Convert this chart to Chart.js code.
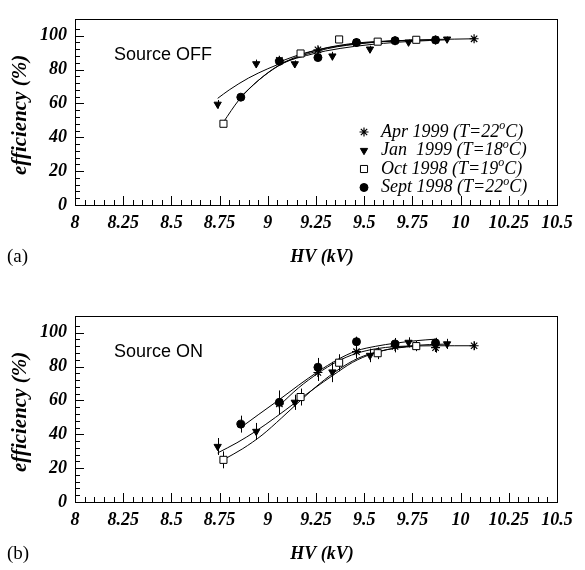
<!DOCTYPE html>
<html>
<head>
<meta charset="utf-8">
<script src="https://cdn.jsdelivr.net/npm/chart.js@4.4.0/dist/chart.umd.min.js"></script>
<style>
  html, body { margin: 0; padding: 0; background: #fff; overflow: hidden; }
  .panel { position: absolute; left: 0; width: 585px; height: 273px; }
</style>
</head>
<body>
<div class="panel" style="top:0"><canvas id="chart-a" width="585" height="273"></canvas></div>
<div class="panel" style="top:297px"><canvas id="chart-b" width="585" height="273"></canvas></div>
<script>
// ---- axis ranges / labels
const hvMin = 8, hvMax = 10.5, hvMajor = 0.25, hvMinor = 0.05;
const effMin = 0, effMax = 110, effMajor = 20, effMinor = 4;

// ---- legend
const legendNames = ['Apr 1999', 'Jan  1999', 'Oct 1998', 'Sept 1998'];
const legendTemps = [22, 18, 19, 22];

// ---- (a) Source OFF : measured points
const aprOffX = [9.06, 9.26, 9.46, 9.66, 9.87, 10.07];
const aprOffY = [85.5, 91.7, 96, 97, 97.5, 98.2];
const aprOffErr = [2, 2, 1.5, 1.5, 1, 1];
const janOffX = [8.74, 8.94, 9.14, 9.335, 9.53, 9.73, 9.93];
const janOffY = [59.5, 83.4, 83.4, 88, 92.1, 96.2, 98];
const janOffErr = [2.5, 2.5, 2, 2.5, 2, 1.5, 1.5];
const octOffX = [8.77, 9.17, 9.37, 9.57, 9.77];
const octOffY = [48, 89.5, 97.8, 96.5, 97.6];
const octOffErr = [1, 1, 1, 1, 1];
const septOffX = [8.86, 9.06, 9.26, 9.46, 9.66, 9.87];
const septOffY = [63.7, 84.9, 87.1, 96, 97.1, 97.5];
const septOffErr = [1, 1, 1, 1, 1, 1];

// ---- (a) fitted curves
const aprOffFitX = [9.06, 9.16, 9.26, 9.36, 9.46, 9.56, 9.66, 9.77, 9.87, 9.97, 10.07];
const aprOffFitY = [84.5, 88.7, 91.7, 93.8, 95.3, 96.3, 97, 97.5, 97.8, 98, 98.2];
const janOffFitX = [8.74, 8.8, 8.9, 9.0, 9.1, 9.2, 9.3, 9.45, 9.6, 9.75, 9.93];
const janOffFitY = [63, 68, 75, 80.5, 85, 88.3, 91, 93.7, 95.5, 96.7, 97.6];
const octOffFitX = [8.77, 8.85, 8.95, 9.05, 9.17, 9.27, 9.37, 9.47, 9.57, 9.67, 9.77];
const octOffFitY = [49, 62, 73.5, 82, 88.5, 92, 94.3, 95.8, 96.6, 97.1, 97.4];
const septOffFitX = [8.86, 8.95, 9.06, 9.16, 9.26, 9.36, 9.46, 9.56, 9.66, 9.77, 9.87];
const septOffFitY = [64, 73.5, 82.5, 87.5, 91, 93.5, 95, 96.2, 96.9, 97.3, 97.5];

// ---- (b) Source ON : measured points
const aprOnX = [9.06, 9.26, 9.46, 9.66, 9.87, 10.07];
const aprOnY = [58, 76.5, 88.8, 91.9, 91.2, 92.3];
const aprOnErr = [5, 5, 4, 3.5, 3, 2.5];
const janOnX = [8.74, 8.94, 9.14, 9.335, 9.53, 9.73, 9.93];
const janOnY = [32.8, 41.7, 58.9, 76.8, 86.6, 94.3, 93.4];
const janOnErr = [5, 5, 4.5, 6, 4, 3, 3];
const octOnX = [8.77, 9.17, 9.37, 9.57, 9.77];
const octOnY = [24.9, 62, 82.3, 87.9, 92.1];
const octOnErr = [5, 5, 5, 3.5, 3];
const septOnX = [8.86, 9.06, 9.26, 9.46, 9.66, 9.87];
const septOnY = [46, 58.9, 79.6, 94.7, 93.4, 94];
const septOnErr = [5, 7, 5.5, 3, 3.5, 3];

// ---- (b) fitted curves
const aprOnFitX = [9.06, 9.16, 9.26, 9.36, 9.46, 9.56, 9.66, 9.77, 9.87, 9.97, 10.07];
const aprOnFitY = [57, 67.5, 76, 83, 87.8, 90.5, 91.8, 92.2, 92.3, 92.3, 92.3];
const janOnFitX = [8.74, 8.84, 8.94, 9.04, 9.14, 9.24, 9.34, 9.44, 9.54, 9.64, 9.74, 9.84, 9.93];
const janOnFitY = [29, 35, 42, 50, 58.5, 67, 75, 82.5, 87.5, 90.5, 92.2, 93, 93.3];
const octOnFitX = [8.77, 8.87, 8.97, 9.07, 9.17, 9.27, 9.37, 9.47, 9.57, 9.67, 9.77];
const octOnFitY = [25, 31.5, 39.5, 49.5, 60, 70, 78.5, 85, 88.8, 91, 92];
const septOnFitX = [8.86, 8.95, 9.06, 9.16, 9.26, 9.36, 9.46, 9.56, 9.66, 9.77, 9.87];
const septOnFitY = [44, 51.5, 60.5, 69, 77, 84, 89.3, 92, 93.8, 95.3, 96.2];

const serif = '"Liberation Serif", "Times New Roman", serif';

// marker look for each period (Apr, Jan, Oct, Sept)
const markers = [
  { pointStyle: 'star', radius: 4.5, rotation: 0, borderWidth: 1.2, backgroundColor: '#000' },
  { pointStyle: 'triangle', radius: 4.2, rotation: 180, borderWidth: 1, backgroundColor: '#000' },
  { pointStyle: 'rect', radius: 5, rotation: 0, borderWidth: 1, backgroundColor: '#fff' },
  { pointStyle: 'circle', radius: 4, rotation: 0, borderWidth: 1, backgroundColor: '#000' }
];

const toXY = (xs, ys) => xs.map((x, i) => ({ x: x, y: ys[i] }));

function isMultiple(v, step) {
  const r = v / step;
  return Math.abs(r - Math.round(r)) < 1e-6;
}

// frame, inner tick marks, error bars and texts
const panelDecor = {
  id: 'panelDecor',
  beforeDatasetsDraw(chart, args, opts) {
    const { ctx, scales: { x, y } } = chart;
    ctx.save();
    ctx.strokeStyle = '#000';
    ctx.lineWidth = 1;
    opts.errors.forEach(s => {
      s.x.forEach((xv, i) => {
        const px = Math.round(x.getPixelForValue(xv)) + 0.5;
        ctx.beginPath();
        ctx.moveTo(px, y.getPixelForValue(s.y[i] - s.e[i]));
        ctx.lineTo(px, y.getPixelForValue(s.y[i] + s.e[i]));
        ctx.stroke();
      });
    });
    ctx.restore();
  },
  afterDraw(chart, args, opts) {
    const { ctx, chartArea: a, scales: { x, y } } = chart;
    ctx.save();
    ctx.strokeStyle = '#000';
    ctx.fillStyle = '#000';
    ctx.lineWidth = 1;
    ctx.strokeRect(Math.round(a.left) + 0.5, Math.round(a.top) + 0.5,
      Math.round(a.right - a.left), Math.round(a.bottom - a.top));

    // ticks on bottom and left axes, pointing inwards
    ctx.beginPath();
    x.ticks.forEach(t => {
      if (!isMultiple(t.value, hvMinor)) return;
      const px = Math.round(x.getPixelForValue(t.value)) + 0.5;
      const len = isMultiple(t.value, hvMajor) ? 9 : 5;
      ctx.moveTo(px, a.bottom);
      ctx.lineTo(px, a.bottom - len);
    });
    y.ticks.forEach(t => {
      if (!isMultiple(t.value, effMinor)) return;
      const py = Math.round(y.getPixelForValue(t.value)) + 0.5;
      const len = isMultiple(t.value, effMajor) ? 9 : 5;
      ctx.moveTo(a.left, py);
      ctx.lineTo(a.left + len, py);
    });
    ctx.stroke();

    // texts
    ctx.textBaseline = 'middle';
    ctx.textAlign = 'left';
    ctx.font = '18px "Liberation Sans", Arial, sans-serif';
    ctx.fillText(opts.source, 114, 55);

    ctx.font = '19px ' + serif;
    ctx.fillText(opts.tag, 7, 257);

    ctx.textAlign = 'center';
    ctx.font = 'italic bold 18px ' + serif;
    ctx.fillText('HV (kV)', 322, 257);

    ctx.save();
    ctx.translate(21, (a.top + a.bottom) / 2 + 3);
    ctx.rotate(-Math.PI / 2);
    ctx.font = 'italic bold 21px ' + serif;
    ctx.fillText('efficiency (%)', 0, 0);
    ctx.restore();

    if (opts.legend) {
      const drawPoint = Chart.helpers && Chart.helpers.drawPoint;
      legendNames.forEach((name, i) => {
        const ly = 132 + i * 18.5;
        const m = markers[i];
        ctx.fillStyle = m.backgroundColor;
        ctx.strokeStyle = '#000';
        ctx.lineWidth = m.borderWidth;
        if (drawPoint) drawPoint(ctx, m, 364, ly);
        ctx.fillStyle = '#000';
        ctx.textAlign = 'left';
        ctx.font = 'italic 18px ' + serif;
        const head = name + ' (T=' + legendTemps[i];
        ctx.fillText(head, 381, ly);
        let tx = 381 + ctx.measureText(head).width;
        ctx.font = 'italic 12px ' + serif;
        ctx.fillText('o', tx, ly - 6);
        tx += ctx.measureText('o').width;
        ctx.font = 'italic 18px ' + serif;
        ctx.fillText('C)', tx, ly);
      });
    }
    ctx.restore();
  }
};

function pointSet(xs, ys, k) {
  const m = markers[k];
  return {
    type: 'scatter',
    data: toXY(xs, ys),
    showLine: false,
    pointStyle: m.pointStyle,
    pointRadius: m.radius,
    pointRotation: m.rotation,
    pointBorderWidth: m.borderWidth,
    pointBackgroundColor: m.backgroundColor,
    pointBorderColor: '#000',
    order: 0
  };
}

function fitSet(xs, ys) {
  return {
    type: 'line',
    data: toXY(xs, ys),
    borderColor: '#000',
    borderWidth: 1,
    pointRadius: 0,
    fill: false,
    cubicInterpolationMode: 'monotone',
    order: 1
  };
}

function makeChart(id, fits, points, deco) {
  const tickFont = { family: serif, size: 18, style: 'italic', weight: 'bold' };
  return new Chart(document.getElementById(id), {
    type: 'scatter',
    data: { datasets: fits.map(f => fitSet(f[0], f[1])).concat(points.map((p, k) => pointSet(p[0], p[1], k))) },
    options: {
      responsive: false,
      animation: false,
      layout: { padding: { top: 6, right: 28, left: 0, bottom: 0 } },
      plugins: { legend: { display: false }, tooltip: { enabled: false }, panelDecor: deco },
      scales: {
        x: {
          type: 'linear', min: hvMin, max: hvMax,
          grid: { display: false, drawTicks: false },
          border: { display: false },
          afterFit: s => { s.height = 68; },
          ticks: {
            stepSize: hvMinor, autoSkip: false, maxRotation: 0, padding: 8,
            color: '#000', font: tickFont,
            callback: v => isMultiple(v, hvMajor) ? String(+v.toFixed(2)) : ''
          }
        },
        y: {
          type: 'linear', min: effMin, max: effMax,
          grid: { display: false, drawTicks: false },
          border: { display: false },
          afterFit: s => { s.width = 75; },
          ticks: {
            stepSize: effMinor, autoSkip: false, padding: 8,
            color: '#000', font: tickFont,
            callback: v => (isMultiple(v, effMajor) && v <= 100) ? String(Math.round(v)) : ''
          }
        }
      }
    },
    plugins: [panelDecor]
  });
}

makeChart('chart-a',
  [[aprOffFitX, aprOffFitY], [janOffFitX, janOffFitY], [octOffFitX, octOffFitY], [septOffFitX, septOffFitY]],
  [[aprOffX, aprOffY], [janOffX, janOffY], [octOffX, octOffY], [septOffX, septOffY]],
  {
    tag: '(a)', source: 'Source OFF', legend: true,
    errors: [
      { x: aprOffX, y: aprOffY, e: aprOffErr }, { x: janOffX, y: janOffY, e: janOffErr },
      { x: octOffX, y: octOffY, e: octOffErr }, { x: septOffX, y: septOffY, e: septOffErr }
    ]
  });

makeChart('chart-b',
  [[aprOnFitX, aprOnFitY], [janOnFitX, janOnFitY], [octOnFitX, octOnFitY], [septOnFitX, septOnFitY]],
  [[aprOnX, aprOnY], [janOnX, janOnY], [octOnX, octOnY], [septOnX, septOnY]],
  {
    tag: '(b)', source: 'Source ON', legend: false,
    errors: [
      { x: aprOnX, y: aprOnY, e: aprOnErr }, { x: janOnX, y: janOnY, e: janOnErr },
      { x: octOnX, y: octOnY, e: octOnErr }, { x: septOnX, y: septOnY, e: septOnErr }
    ]
  });
</script>
</body>
</html>
